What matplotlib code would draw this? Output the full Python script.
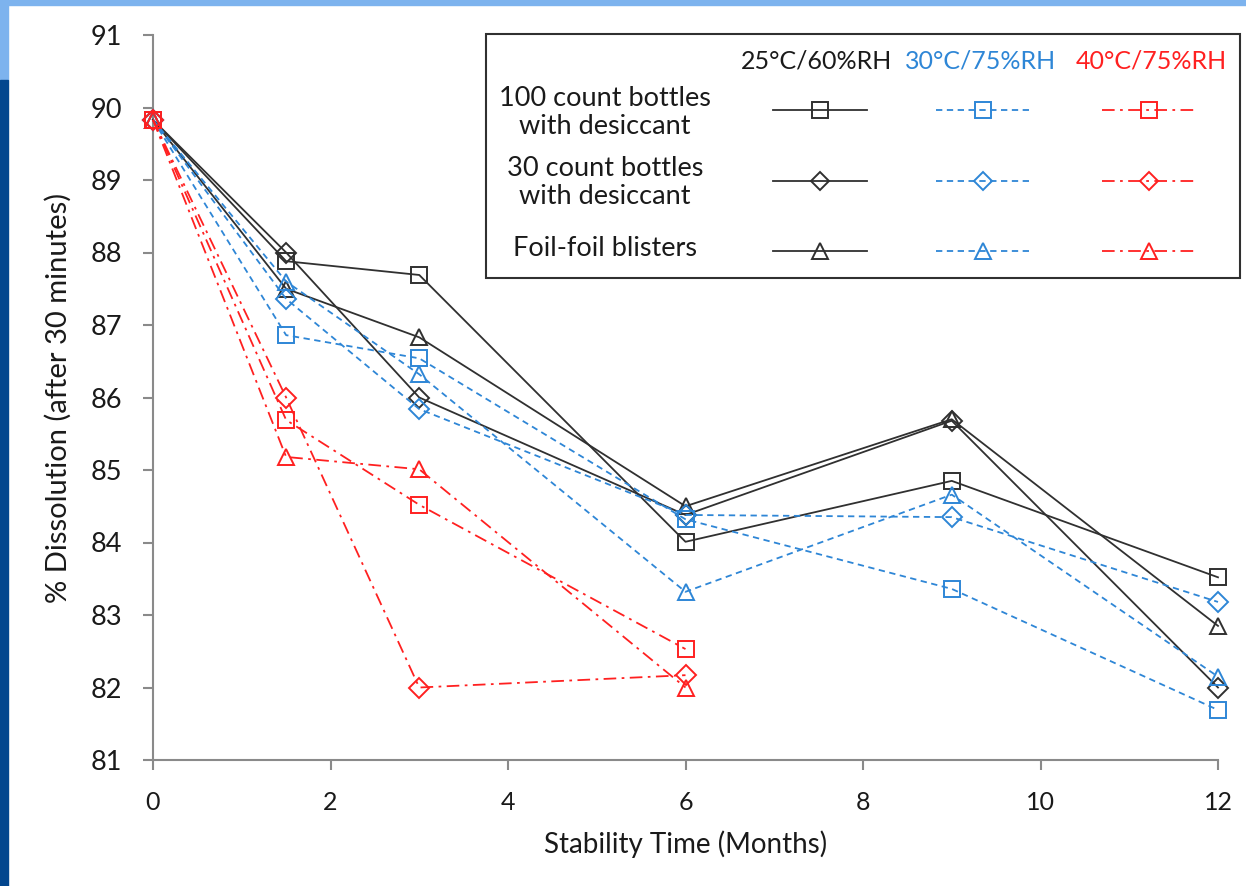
import matplotlib
matplotlib.use("Agg")
import matplotlib.pyplot as plt
from matplotlib.lines import Line2D
from matplotlib.patches import Rectangle

plt.rcParams['font.family'] = ['Lato', 'DejaVu Sans']

# Datos (% disolucion tras 30 minutos)
meses = [0, 1.5, 3, 6, 9, 12]
meses_40 = [0, 1.5, 3, 6]

# 25C/60%RH
b100_25 = [89.83, 87.88, 87.69, 84.01, 84.85, 83.52]
b30_25 = [89.83, 88.00, 86.00, 84.38, 85.68, 82.00]
foil_25 = [89.83, 87.50, 86.83, 84.50, 85.70, 82.85]
# 30C/75%RH
b100_30 = [89.83, 86.86, 86.54, 84.32, 83.36, 81.69]
b30_30 = [89.83, 87.36, 85.84, 84.38, 84.35, 83.18]
foil_30 = [89.83, 87.60, 86.32, 83.32, 84.66, 82.15]
# 40C/75%RH
b100_40 = [89.83, 85.69, 84.52, 82.53]
b30_40 = [89.83, 86.00, 82.00, 82.17]
foil_40 = [89.83, 85.18, 85.01, 82.00]

condiciones = ['25°C/60%RH', '30°C/75%RH', '40°C/75%RH']
envases = ['100 count bottles\nwith desiccant', '30 count bottles\nwith desiccant', 'Foil-foil blisters']
marcadores = ['s', 'D', '^']
tam_marc = [12, 10, 12]

negro = '#303030'
azul = '#2e86d6'
rojo = '#ff2020'
colores = ['#1a1a1a', azul, rojo]
colores_lin = [negro, azul, rojo]
estilos = ['-', (0, (3.5, 2.5)), (0, (7, 3, 1.5, 3))]

fig = plt.figure(figsize=(12.46, 8.86), dpi=100)

# fondo de la diapositiva
fig.patches.append(Rectangle((0, 1 - 5 / 886), 1, 5 / 886, transform=fig.transFigure,
                             color='#7db3ee', zorder=0))
fig.patches.append(Rectangle((0, 1 - 80 / 886), 8 / 1246, 80 / 886, transform=fig.transFigure,
                             color='#7db3ee', zorder=0))
fig.patches.append(Rectangle((0, 0), 8 / 1246, 1 - 80 / 886, transform=fig.transFigure,
                             color='#02468e', zorder=0))

ax = fig.add_axes([153 / 1246, 1 - 760 / 886, (1218 - 153) / 1246, (760 - 35) / 886])

series = [
    (meses, [b100_25, b30_25, foil_25]),
    (meses, [b100_30, b30_30, foil_30]),
    (meses_40, [b100_40, b30_40, foil_40]),
]

for c, (xs, grupo) in enumerate(series):
    for e, ys in enumerate(grupo):
        ax.plot(xs, ys, color=colores_lin[c], linestyle=estilos[c], linewidth=1.3,
                marker=marcadores[e], markersize=tam_marc[e], markerfacecolor='none',
                markeredgewidth=1.4, clip_on=False, zorder=3)

ax.set_xlim(0, 12)
ax.set_ylim(81, 91)
ax.set_xticks(range(0, 13, 2))
ax.set_yticks(range(81, 92))
for s in ['top', 'right']:
    ax.spines[s].set_visible(False)
for s in ['left', 'bottom']:
    ax.spines[s].set_color('#8a8a8a')
    ax.spines[s].set_linewidth(1.5)
ax.tick_params(colors='#8a8a8a', width=1.5, length=7, labelcolor='#1a1a1a')
ax.tick_params(axis='y', labelsize=19.5, pad=15)
ax.tick_params(axis='x', labelsize=18, pad=15)
ax.set_xlabel('Stability Time (Months)', fontsize=20, color='#1a1a1a', labelpad=12)
ax.set_ylabel('% Dissolution (after 30 minutes)', fontsize=21, color='#1a1a1a', labelpad=14)

# leyenda en forma de tabla
W, H = 1246, 886
def fx(px):
    return px / W
def fy(py):
    return 1 - py / H

fig.patches.append(Rectangle((fx(486), fy(278)), fx(1240) - fx(486), fy(33.5) - fy(278),
                             transform=fig.transFigure, fill=False, edgecolor='#303030',
                             linewidth=1.5, zorder=5))
cols = [820, 983, 1149]
cols_txt = [817, 981, 1151]
filas = [110, 181, 251]
filas_txt = [112, 183, 249]
for c in range(3):
    fig.text(fx(cols_txt[c]), fy(61), condiciones[c], color=colores[c], fontsize=18,
             ha='center', va='center')
for e in range(3):
    fig.text(fx(605), fy(filas_txt[e]), envases[e], fontsize=19.5,
             ha='center', va='center', linespacing=1.15, color='#1a1a1a')
    for c in range(3):
        x0 = cols[c] - 47
        x1 = cols[c] + 47
        fig.add_artist(Line2D([fx(x0), fx(x1)], [fy(filas[e]), fy(filas[e])],
                              transform=fig.transFigure, color=colores_lin[c],
                              linestyle=estilos[c], linewidth=1.3))
        fig.add_artist(Line2D([fx(cols[c])], [fy(filas[e])], transform=fig.transFigure,
                              color=colores_lin[c], marker=marcadores[e], markersize=tam_marc[e] - 1,
                              markerfacecolor='none', markeredgewidth=1.4, linestyle='none'))

fig.savefig('out.png', dpi=100)
